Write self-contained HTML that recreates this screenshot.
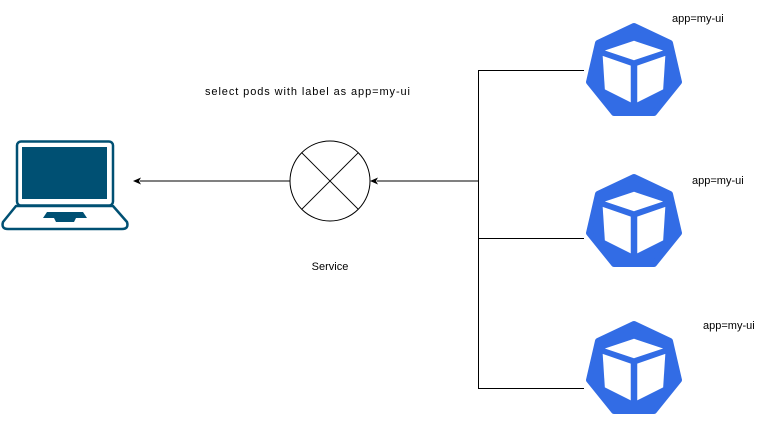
<!DOCTYPE html>
<html><head><style>
html,body{margin:0;padding:0;background:#fff;}
svg{display:block;font-family:"Liberation Sans",Arial,sans-serif;}
</style></head><body>
<svg width="771" height="441" viewBox="0 0 771 441" xmlns="http://www.w3.org/2000/svg">
<defs>
<g id="pod">
<polygon points="0,-45 36,-28 45,11 20,42 -20,42 -45,11 -36,-28" fill="#326ce5" stroke="#326ce5" stroke-width="6" stroke-linejoin="round"/>
<g transform="scale(1.08)">
<polygon points="0,-28 27,-19 0,-10 -27,-19" fill="#fff"/>
<polygon points="-29,-14 -3,-5 -3,29 -27,17" fill="#fff"/>
<polygon points="29,-14 3,-5 3,29 27,17" fill="#fff"/>
</g>
</g>
</defs>
<rect x="17" y="141.5" width="96" height="64" rx="4" fill="#fff" stroke="#005073" stroke-width="2.5"/>
<rect x="22" y="147" width="85" height="52" fill="#005073"/>
<path d="M16,206 L113,206 L127,222 Q129,229 122,229 L8,229 Q1,229 3,222 Z" fill="#fff" stroke="#005073" stroke-width="2.5" stroke-linejoin="round"/>
<polygon points="47,212 83,212 87,218 76,218 74,222 56,222 54,218 43,218" fill="#005073"/>
<line x1="290" y1="181" x2="140" y2="181" stroke="#000" stroke-width="1"/>
<polygon points="133,181 141,177.5 139,181 141,184.5" fill="#000"/>
<circle cx="330" cy="181" r="40" fill="#fff" stroke="#000" stroke-width="1"/>
<line x1="301.7" y1="152.7" x2="358.3" y2="209.3" stroke="#000"/>
<line x1="358.3" y1="152.7" x2="301.7" y2="209.3" stroke="#000"/>
<text x="330" y="270" font-size="11" text-anchor="middle">Service</text>
<text x="205" y="95" font-size="11" textLength="205" lengthAdjust="spacing">select pods with label as app=my-ui</text>
<line x1="478" y1="181" x2="377" y2="181" stroke="#000"/>
<polygon points="370,181 378,177.5 376,181 378,184.5" fill="#000"/>
<line x1="478.5" y1="70" x2="478.5" y2="388" stroke="#000"/>
<line x1="478" y1="70.5" x2="584" y2="70.5" stroke="#000"/>
<line x1="478" y1="238.5" x2="584" y2="238.5" stroke="#000"/>
<line x1="478" y1="388.5" x2="584" y2="388.5" stroke="#000"/>
<use href="#pod" x="634" y="71"/>
<use href="#pod" x="634" y="222"/>
<use href="#pod" x="634" y="369"/>
<text x="672" y="22" font-size="11">app=my-ui</text>
<text x="692" y="184" font-size="11">app=my-ui</text>
<text x="703" y="329" font-size="11">app=my-ui</text>
</svg>
</body></html>
